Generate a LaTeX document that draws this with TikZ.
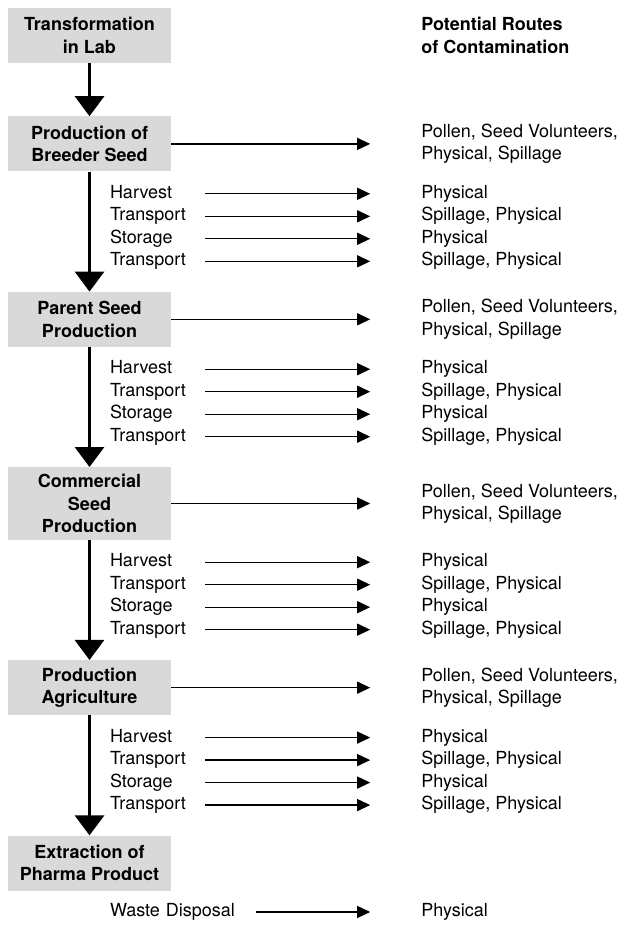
\documentclass[tikz,border=0pt]{standalone}
\usepackage{fontspec}
\setmainfont{TeX Gyre Heros}
\usepackage{tikz}
\usetikzlibrary{arrows.meta, positioning}
\usepackage{xcolor}
\definecolor{stagegray}{RGB}{217,217,217}
\newcommand{\figfont}{\fontsize{18}{22.5}\selectfont}

\begin{document}
\begin{tikzpicture}[
  x=1pt, y=-1pt,
  stagebox/.style={fill=stagegray, minimum width=163pt, minimum height=55pt,
                   inner xsep=4pt, inner ysep=7pt,
                   align=center, font=\figfont\bfseries},
  sublbl/.style={text width=95pt, align=left, inner sep=0pt,
                 text height=13pt, text depth=4pt, font=\figfont},
  route/.style={anchor=west, inner sep=0pt,
                text height=13pt, text depth=4pt, font=\figfont},
  routes2/.style={inner sep=0pt, align=left, font=\figfont},
  varr/.style={-{Triangle[length=20pt, width=29pt]}, line width=3pt},
  harr/.style={-{Triangle[length=13pt, width=12pt]}, line width=1.3pt,
               shorten >=51pt}
]
\useasboundingbox (0,0) rectangle (624,926);
% stages
\node[stagebox] (lab) at (89.5,35.5) {Transformation\\in Lab};
\node[stagebox, below=53pt of lab] (breeder) {Production of\\Breeder Seed};
\node[stagebox, below=120pt of breeder] (parent) {Parent Seed\\Production};
\node[stagebox, below=120pt of parent] (commercial) {Commercial\\Seed\\Production};
\node[stagebox, below=120pt of commercial] (agri) {Production\\Agriculture};
\node[stagebox, below=120pt of agri] (extract) {Extraction of\\Pharma Product};
\foreach \a/\b in {lab/breeder,breeder/parent,parent/commercial,commercial/agri,agri/extract}
  \draw[varr] (\a) -- (\b);
% right column
\node[routes2, font=\figfont\bfseries, right=250pt of lab] (head)
  {Potential Routes\\of Contamination};
\foreach \s in {breeder,parent,commercial,agri}{
  \node[routes2, right=250pt of \s] (\s R) {Pollen, Seed Volunteers,\\Physical, Spillage};
  \draw[harr] (\s) -- (\s R);
  % handling steps below each stage
  \foreach \k/\what/\via in {1/Harvest/Physical, 2/Transport/{Spillage, Physical},
                             3/Storage/Physical, 4/Transport/{Spillage, Physical}}{
    \pgfmathsetmacro\gap{13.5+22.5*(\k-1)}
    \node[sublbl, below=\gap pt of \s, xshift=68pt] (\s\k) {\what};
    \node[route, right=216pt of \s\k] (\s\k r) {\via};
    \draw[harr] (\s\k) -- (\s\k r);
  }
}
\node[sublbl, text width=146pt, below=12.5pt of extract, xshift=93.5pt] (waste) {Waste Disposal};
\node[route, right=165pt of waste] (wasteR) {Physical};
\draw[harr] (waste) -- (wasteR);
\end{tikzpicture}
\end{document}
